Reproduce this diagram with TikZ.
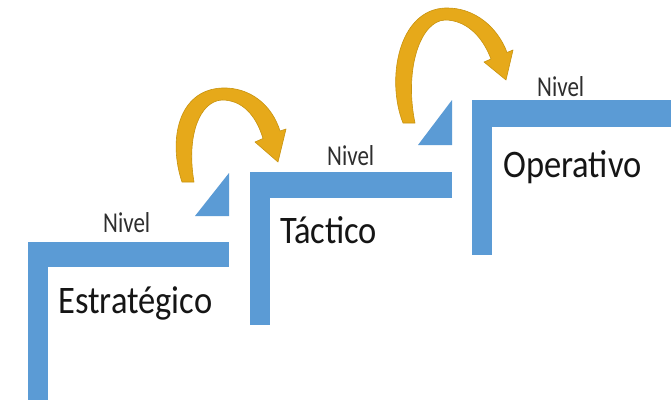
\documentclass[tikz,border=0pt]{standalone}
\usepackage{graphicx}
\usepackage{fontspec}
\setmainfont{Carlito}
\definecolor{stepblue}{HTML}{5B9BD5}
\definecolor{arrowgold}{HTML}{E6A91A}
\definecolor{arrowedge}{HTML}{C8930E}
\definecolor{txt}{HTML}{151515}
\definecolor{niveltxt}{HTML}{2E2E2E}
\tikzset{
  bar/.style={fill=stepblue, draw=none},
  curvearrow/.style={fill=arrowgold, draw=arrowedge, line width=0.6pt, line join=round},
  nivel/.style={anchor=base west, inner sep=0pt, text=niveltxt, font=\fontsize{23}{28}\selectfont},
  levelname/.style={anchor=base west, inner sep=0pt, text=txt, font=\fontsize{34.5}{40}\selectfont}
}
\newcommand{\tallnv}[1]{\scalebox{1}[1.25]{#1}}
\newcommand{\talllv}[1]{\scalebox{1}[1.13]{#1}}
\begin{document}
\begin{tikzpicture}[x=1pt,y=-1pt]
\useasboundingbox (0,0) rectangle (671,400);
\fill[white] (0,0) rectangle (671,400);
% step 1
\fill[bar] (28,242) rectangle (229,267);
\fill[bar] (28,242) rectangle (48,400);
\fill[bar] (195,216) -- (229,216) -- (229,173) -- cycle;
% step 2
\fill[bar] (250,172) rectangle (452,198);
\fill[bar] (250,172) rectangle (270,325);
\fill[bar] (418,145) -- (452,145) -- (452,100) -- cycle;
% step 3
\fill[bar] (472,100) rectangle (671,127);
\fill[bar] (472,100) rectangle (492,255);
% arrow 1
\path[curvearrow] (182,182) .. controls (168,140) and (178,90) .. (222,88)
  .. controls (250,87) and (272,105) .. (280,131) -- (286,129) -- (278,162) -- (255,142) -- (263,138.5)
  .. controls (256,115) and (242,100) .. (222,100)
  .. controls (200,101) and (186,135) .. (194,182) -- cycle;
% arrow 2
\path[curvearrow] (403,123) .. controls (386,80) and (398,10) .. (445,8)
  .. controls (475,7) and (498,28) .. (507,52.5) -- (513,50) -- (506,80) -- (484,62) -- (491,59)
  .. controls (482,35) and (465,20) .. (445,20)
  .. controls (420,21) and (404,70) .. (415,123) -- cycle;
% texts
\node[nivel] (n1) at (103,232) {\tallnv{Nivel}};
\node[levelname] (l1) at (58,313) {\talllv{Estratégico}};
\node[nivel] (n2) at (327,165) {\tallnv{Nivel}};
\node[levelname] (l2) at (280,243) {\talllv{Táctico}};
\node[nivel] (n3) at (537,96) {\tallnv{Nivel}};
\node[levelname] (l3) at (503,177) {\talllv{Operativo}};
\end{tikzpicture}
\end{document}
